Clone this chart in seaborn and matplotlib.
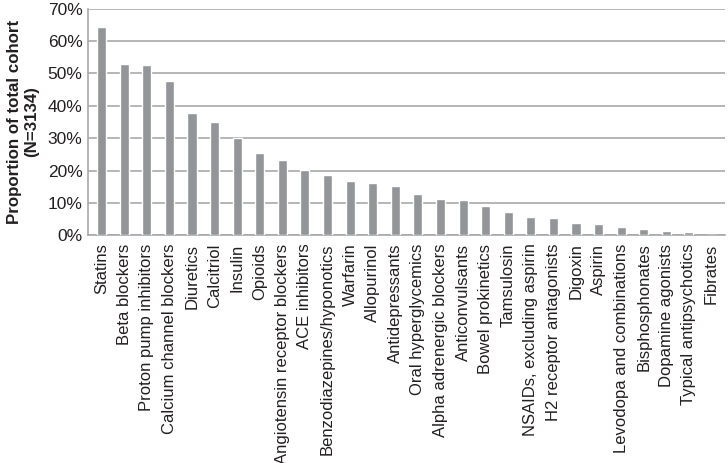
import matplotlib
matplotlib.use('Agg')
import matplotlib.pyplot as plt
import seaborn as sns
import pandas as pd
from matplotlib.ticker import PercentFormatter

# drug classes, sorted by share of the cohort
drug_classes = [
    'Statins', 'Beta blockers', 'Proton pump inhibitors', 'Calcium channel blockers',
    'Diuretics', 'Calcitriol', 'Insulin', 'Opioids', 'Angiotensin receptor blockers',
    'ACE inhibitors', 'Benzodiazepines/hyponotics', 'Warfarin', 'Allopurinol',
    'Antidepressants', 'Oral hyperglycemics', 'Alpha adrenergic blockers',
    'Anticonvulsants', 'Bowel prokinetics', 'Tamsulosin', 'NSAIDs, excluding aspirin',
    'H2 receptor antagonists', 'Digoxin', 'Aspirin', 'Levodopa and combinations',
    'Bisphosphonates', 'Dopamine agonists', 'Typical antipsychotics', 'Fibrates',
]
proportion = [
    64.4, 52.9, 52.7, 47.8, 37.7, 35.0, 30.0, 25.5, 23.3, 20.1, 18.6, 16.9, 16.1,
    15.1, 12.7, 11.2, 11.0, 9.1, 7.3, 5.5, 5.3, 3.7, 3.4, 2.4, 2.0, 1.3, 0.9, 0.2,
]
y_ticks = [0, 10, 20, 30, 40, 50, 60, 70]

df = pd.DataFrame({'drug': drug_classes, 'pct': proportion})

sns.set_style('white')
plt.rcParams['font.family'] = ['Liberation Sans', 'DejaVu Sans']

fig = plt.figure(figsize=(7.28, 4.63), dpi=100)
ax = fig.add_axes([0.121, 0.492, 0.875, 0.489])

sns.barplot(data=df, x='drug', y='pct', color='#939598', saturation=1,
            width=0.4, ax=ax, zorder=3)

ax.set_ylim(0, 70)
ax.set_yticks(y_ticks)
ax.yaxis.set_major_formatter(PercentFormatter(decimals=0))
ax.yaxis.grid(True, color='#a7a9ac', linewidth=1.2, zorder=0)
ax.set_axisbelow(True)
ax.set_xlim(-0.6, len(drug_classes) - 0.4)

for side in ['top', 'right']:
    ax.spines[side].set_visible(False)
for side in ['left', 'bottom']:
    ax.spines[side].set_color('#a7a9ac')
    ax.spines[side].set_linewidth(1.2)

ax.tick_params(axis='y', length=0, labelsize=12.5, colors='#231f20', pad=4)
ax.tick_params(axis='x', length=0, labelsize=12, colors='#231f20', pad=6)
plt.setp(ax.get_xticklabels(), rotation=90)

ax.set_xlabel('')
ax.set_ylabel('Proportion of total cohort\n(N=3134)', fontsize=12.2,
              fontweight='bold', color='#231f20', labelpad=6)

fig.savefig('out.png', dpi=100)
